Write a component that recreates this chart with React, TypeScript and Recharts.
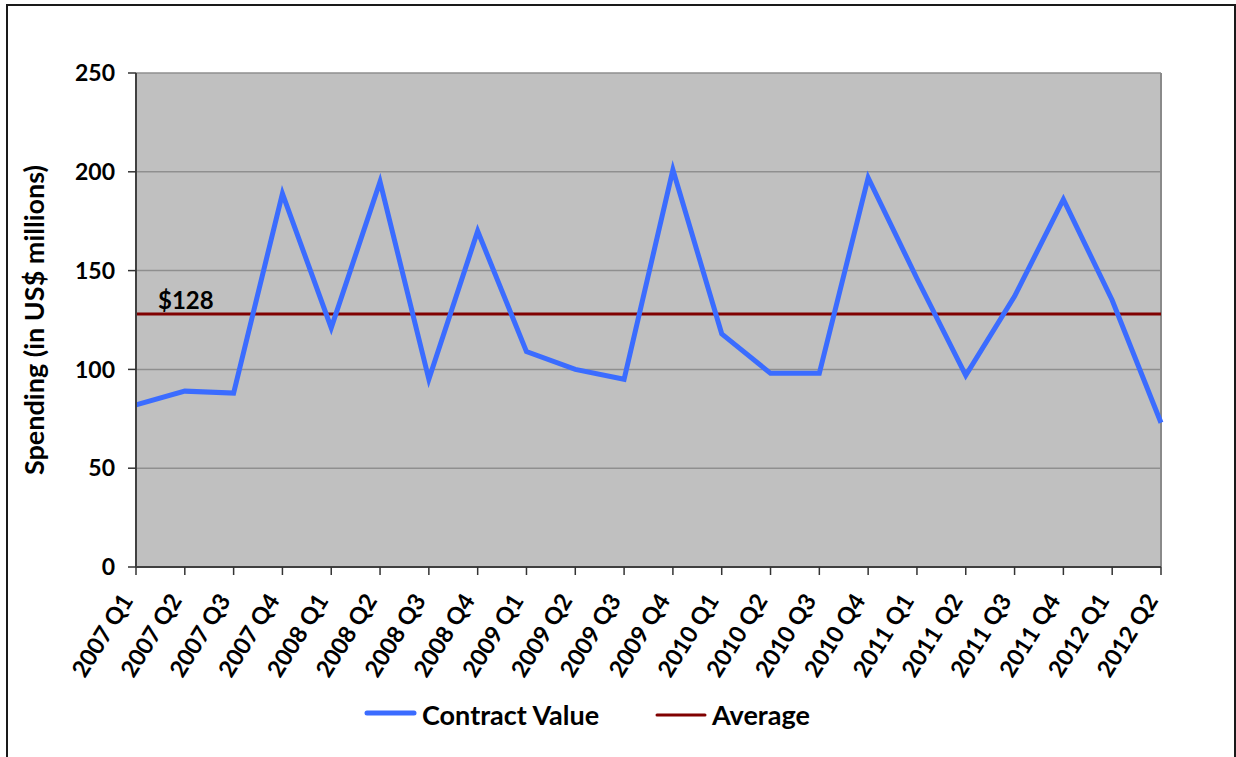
import React from "react";
import {
  LineChart,
  Line,
  XAxis,
  YAxis,
  CartesianGrid,
  ReferenceLine,
  Legend,
} from "recharts";

// Quarterly contract spending, US$ millions
const QUARTERS = [
  "2007 Q1", "2007 Q2", "2007 Q3", "2007 Q4",
  "2008 Q1", "2008 Q2", "2008 Q3", "2008 Q4",
  "2009 Q1", "2009 Q2", "2009 Q3", "2009 Q4",
  "2010 Q1", "2010 Q2", "2010 Q3", "2010 Q4",
  "2011 Q1", "2011 Q2", "2011 Q3", "2011 Q4",
  "2012 Q1", "2012 Q2",
];
const CONTRACT_VALUE = [
  82, 89, 88, 189,
  121, 195, 95, 170,
  109, 100, 95, 201,
  118, 98, 98, 197,
  146, 97, 137, 186,
  135, 73,
];
const AVERAGE = 128;
const Y_TICKS = [0, 50, 100, 150, 200, 250];

const SERIES_NAMES = { contract: "Contract Value", average: "Average" };

const data = QUARTERS.map((quarter, i) => ({
  quarter,
  contract: CONTRACT_VALUE[i],
  average: AVERAGE,
}));

const FONT = "Lato, 'Open Sans', sans-serif";
const BLUE = "#3b6cff";
const MAROON = "#800000";

const QuarterTick = (props: any) => {
  const { x, y, payload } = props;
  const ax = x - 9;
  const ay = y + 19;
  return (
    <text
      x={ax}
      y={ay}
      dy="0.35em"
      transform={`rotate(-58, ${ax}, ${ay})`}
      textAnchor="end"
      fontFamily={FONT}
      fontWeight={700}
      fontSize={23.5}
      fill="#000"
    >
      {payload.value}
    </text>
  );
};

const ValueTick = (props: any) => {
  const { x, y, payload } = props;
  return (
    <text
      x={x}
      y={y}
      dy="0.36em"
      textAnchor="end"
      fontFamily={FONT}
      fontWeight={700}
      fontSize={23}
      fill="#000"
    >
      {payload.value}
    </text>
  );
};

const AverageLabel = (props: any) => {
  const { viewBox } = props;
  return (
    <text
      x={viewBox.x + 22}
      y={viewBox.y - 5}
      fontFamily={FONT}
      fontWeight={700}
      fontSize={24}
      fill="#000"
    >
      {`$${AVERAGE}`}
    </text>
  );
};

const LegendBox = () => (
  <svg width={1236} height={50} style={{ display: "block" }}>
    <line x1={367} y1={23} x2={414} y2={23} stroke={BLUE} strokeWidth={5} strokeLinecap="round" />
    <text x={422} y={35} fontFamily={FONT} fontWeight={700} fontSize={27} fill="#000">
      {SERIES_NAMES.contract}
    </text>
    <line x1={657} y1={25} x2={705} y2={25} stroke={MAROON} strokeWidth={3} strokeLinecap="round" />
    <text x={712} y={35} fontFamily={FONT} fontWeight={700} fontSize={27} fill="#000">
      {SERIES_NAMES.average}
    </text>
  </svg>
);

export default function App() {
  return (
    <div
      style={{
        position: "fixed",
        left: 0,
        top: 0,
        width: 1236,
        height: 757,
        background: "#fff",
        overflow: "hidden",
      }}
    >
      <div
        style={{
          position: "absolute",
          left: 6,
          top: 4,
          width: 1230,
          height: 800,
          border: "2px solid #1a1a1a",
          boxSizing: "border-box",
        }}
      />
      <div style={{ position: "absolute", left: 0, top: 0 }}>
        <LineChart
          width={1236}
          height={757}
          data={data}
          margin={{ top: 73, right: 75, bottom: 0, left: 0 }}
        >
          <CartesianGrid
            vertical={false}
            stroke="#8f8f8f"
            strokeWidth={1.5}
            fill="#c0c0c0"
            fillOpacity={1}
          />
          <XAxis
            dataKey="quarter"
            interval={0}
            height={190}
            tickSize={8}
            tickLine={{ stroke: "#333", strokeWidth: 1.5 }}
            axisLine={{ stroke: "#404040", strokeWidth: 2 }}
            tick={<QuarterTick />}
          />
          <YAxis
            domain={[0, 250]}
            ticks={Y_TICKS}
            width={136}
            tickSize={8}
            tickMargin={13}
            tickLine={{ stroke: "#333", strokeWidth: 1.5 }}
            axisLine={{ stroke: "#404040", strokeWidth: 2 }}
            tick={<ValueTick />}
            label={{
              value: "Spending (in US$ millions)",
              angle: -90,
              position: "insideLeft",
              offset: 0,
              dx: 34,
              style: {
                fontFamily: FONT,
                fontWeight: 700,
                fontSize: 27,
                fill: "#000",
                textAnchor: "middle",
              },
            }}
          />
          <ReferenceLine x={QUARTERS[QUARTERS.length - 1]} stroke="#8a8a8a" strokeWidth={2} />
          <ReferenceLine y={AVERAGE} stroke="none" label={<AverageLabel />} />
          <Line
            dataKey="average"
            name={SERIES_NAMES.average}
            type="linear"
            stroke={MAROON}
            strokeWidth={3}
            dot={false}
            activeDot={false}
            isAnimationActive={false}
          />
          <Line
            dataKey="contract"
            name={SERIES_NAMES.contract}
            type="linear"
            stroke={BLUE}
            strokeWidth={5}
            dot={false}
            activeDot={false}
            isAnimationActive={false}
          />
          <Legend
            layout="horizontal"
            verticalAlign="middle"
            align="center"
            content={<LegendBox />}
            wrapperStyle={{ position: "absolute", left: 0, top: 690, width: 1236, height: 50 }}
          />
        </LineChart>
      </div>
    </div>
  );
}
